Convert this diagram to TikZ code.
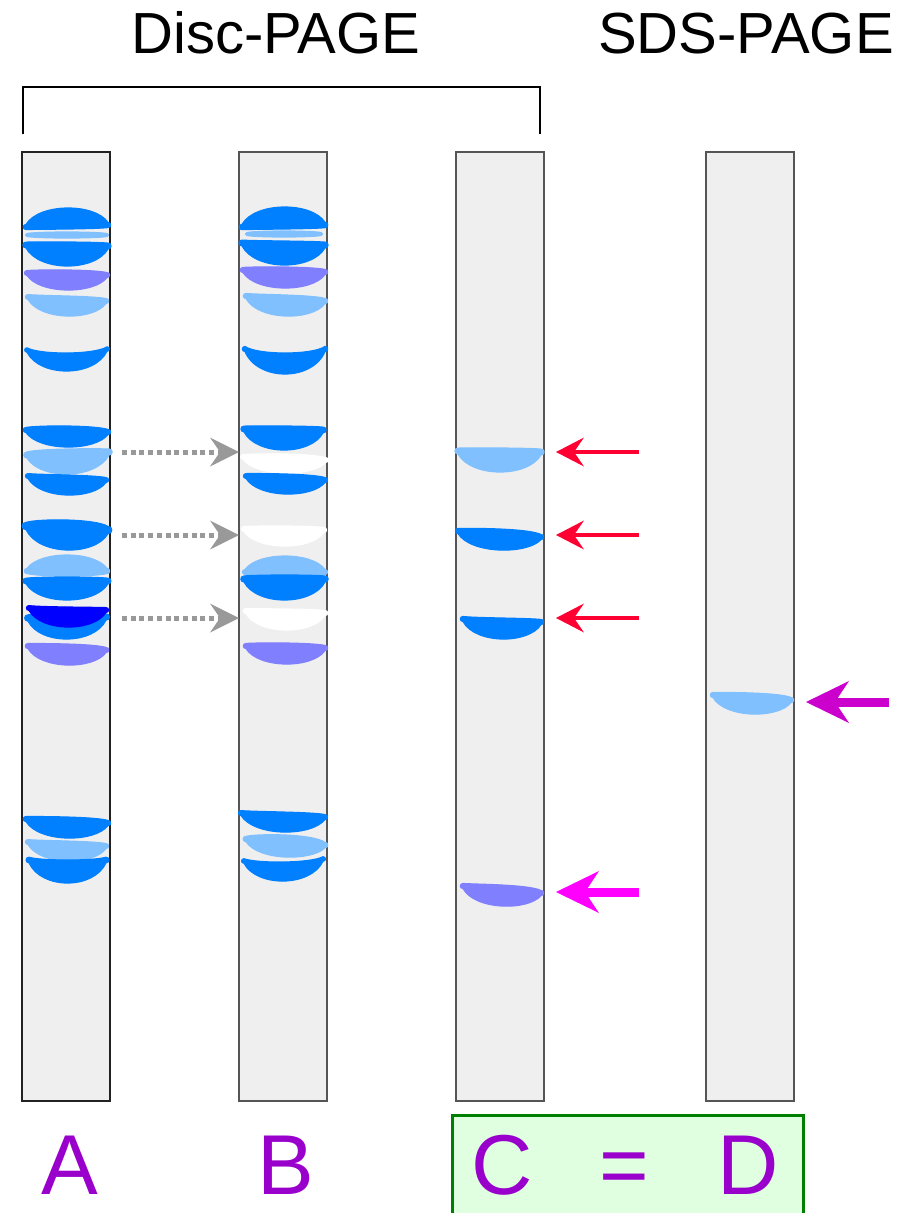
\documentclass[tikz,border=0pt]{standalone}
\usepackage{fontspec}
\setmainfont{Liberation Sans}
\usetikzlibrary{arrows.meta}

\definecolor{bandDark}{HTML}{0080FF}
\definecolor{bandLight}{HTML}{80C0FF}
\definecolor{bandViolet}{HTML}{8080FF}
\definecolor{bandDeep}{HTML}{0000FF}
\definecolor{laneFill}{HTML}{EFEFEF}
\definecolor{laneEdge}{HTML}{555555}
\definecolor{laneEdgeA}{HTML}{222222}
\definecolor{lblPurple}{HTML}{9900CC}
\definecolor{boxFill}{HTML}{E0FFE0}
\definecolor{boxEdge}{HTML}{008000}
\definecolor{arrRed}{HTML}{FF0033}
\definecolor{arrMag}{HTML}{FF00FF}
\definecolor{arrViolet}{HTML}{CC00CC}
\definecolor{arrGray}{HTML}{999999}

% A stained band: colour, left x, left y, right x, right y, top y, bottom y.
% Both ends are closed by a small outward bulge so the band stays blunt.
\newcommand{\gelband}[7]{%
  \pgfmathsetmacro{\gbW}{#4-#2}%
  \pgfmathsetmacro{\gbE}{max(1.5,0.12*(#7-#6))}%
  \pgfmathsetmacro{\gbK}{1.4*\gbE}%
  \pgfmathsetmacro{\gbT}{(#6-0.125*(#3+#5-2*\gbE))/0.75}%
  \pgfmathsetmacro{\gbB}{(#7-0.125*(#3+#5+2*\gbE))/0.75}%
  \filldraw[#1, line width=1.2pt, line join=round]
    (#2,{#3-\gbE}) .. controls ({#2+0.16*\gbW},\gbT) and ({#4-0.16*\gbW},\gbT) .. (#4,{#5-\gbE})
    .. controls ({#4+\gbK},{#5-\gbE}) and ({#4+\gbK},{#5+\gbE}) .. (#4,{#5+\gbE})
    .. controls ({#4-0.16*\gbW},\gbB) and ({#2+0.16*\gbW},\gbB) .. (#2,{#3+\gbE})
    .. controls ({#2-\gbK},{#3+\gbE}) and ({#2-\gbK},{#3-\gbE}) .. cycle;}

\tikzset{
  lane/.style={draw=laneEdge, fill=laneFill, line width=1.2pt, minimum width=88pt,
    minimum height=949pt, inner sep=0pt},
  titletext/.style={font=\fontsize{58}{62}\selectfont, inner sep=0pt, anchor=base},
  lanelabel/.style={font=\fontsize{85}{90}\selectfont, text=lblPurple, inner sep=0pt, anchor=base},
  transfer/.style={draw=arrGray, line width=5pt, dash pattern=on 5pt off 3.7pt,
    -{Stealth[length=29pt,width=29pt,inset=10pt,line width=0pt]}},
  redmark/.style={draw=arrRed, line width=4.5pt,
    -{Stealth[length=28pt,width=29pt,inset=10pt,line width=0pt]}},
  bigmark/.style={line width=9pt,
    -{Stealth[length=43pt,width=42pt,inset=14pt,line width=0pt]}},
}

\begin{document}
\begin{tikzpicture}[x=1pt,y=-1pt]
\useasboundingbox (0,0) rectangle (911,1213);

% headings and bracket over the two native gels
\node[titletext] (disc) at (276,53) {Disc-PAGE};
\node[titletext] (sds) at (746,53) {SDS-PAGE};
\coordinate (brL) at (23,134);
\coordinate (brR) at (540,134);
\draw[line width=2pt] (brL) -- (23,87) -- (540,87) -- (brR);

% gel lanes
\node[lane, draw=laneEdgeA] (laneA) at (66,626.5) {};
\node[lane] (laneB) at (283,626.5) {};
\node[lane] (laneC) at (500,626.5) {};
\node[lane] (laneD) at (750,626.5) {};

% lane A
\gelband{bandDark}{26}{227}{108}{225}{208}{229}
\gelband{bandLight}{27}{235}{107}{235}{232}{238}
\gelband{bandDark}{26}{245}{108}{246}{242}{266}
\gelband{bandViolet}{27}{273}{107}{275}{270}{290}
\gelband{bandLight}{28}{297}{106}{301}{296}{316}
\gelband{bandDark}{27}{350}{107}{349}{353}{371}
\gelband{bandDark}{26}{430}{108}{432}{426}{447}
\gelband{bandLight}{27}{455}{109}{452}{449}{474}
\gelband{bandDark}{28}{476}{106}{480}{475}{495}
\gelband{bandDark}{26}{526}{108}{530}{520}{550}
\gelband{bandLight}{27}{571}{107}{571}{555}{576}
\gelband{bandDark}{26}{581}{108}{581}{577}{600}
\gelband{bandDark}{28}{618}{106}{617}{613}{639}
\gelband{bandDeep}{29}{608}{106}{610}{607}{627}
\gelband{bandViolet}{28}{646}{106}{650}{644}{665}
\gelband{bandDark}{26}{819}{108}{823}{817}{838}
\gelband{bandLight}{28}{842}{106}{846}{841}{861}
\gelband{bandDark}{29}{860}{106}{860}{860}{883}

% lane B
\gelband{bandDark}{242}{227}{325}{225}{207}{229}
\gelband{bandLight}{247}{234}{321}{234}{231}{237}
\gelband{bandDark}{242}{243}{325}{245}{241}{265}
\gelband{bandViolet}{243}{270}{325}{272}{267}{288}
\gelband{bandLight}{246}{296}{325}{301}{295}{316}
\gelband{bandDark}{245}{349}{325}{349}{353}{374}
\gelband{bandDark}{244}{429}{323}{430}{426}{450}
\gelband{white}{243}{457}{326}{460}{454}{473}
\gelband{bandDark}{246}{476}{325}{480}{474}{494}
\gelband{white}{244}{529}{324}{530}{526}{546}
\gelband{bandLight}{245}{572}{325}{572}{556}{576}
\gelband{bandDark}{244}{579}{325}{579}{575}{600}
\gelband{white}{246}{611}{325}{613}{609}{630}
\gelband{bandViolet}{246}{646}{325}{648}{643}{664}
\gelband{bandDark}{241}{813}{325}{817}{812}{832}
\gelband{bandLight}{246}{839}{325}{845}{835}{857}
\gelband{bandDark}{244}{861}{323}{859}{862}{881}

% lane C
\gelband{bandLight}{458}{451}{541}{452}{448}{472}
\gelband{bandDark}{458}{531}{541}{537}{529}{550}
\gelband{bandDark}{463}{619}{541}{622}{618}{639}
\gelband{bandViolet}{463}{886}{541}{893}{885}{906}

% lane D
\gelband{bandLight}{713}{695}{791}{700}{693}{714}

% bands cut out of lane A and missing from lane B
\foreach \yy [count=\k] in {452,535,618} {
  \coordinate (cutA\k) at (122,\yy);
  \coordinate (cutB\k) at (239,\yy);
  \draw[transfer] (cutA\k) -- (cutB\k);
}

% the three cut-out bands rerun in lane C
\foreach \yy [count=\k] in {452,535,618} {
  \coordinate (tailC\k) at (639,\yy);
  \coordinate (tipC\k) at (556,\yy);
  \draw[redmark] (tailC\k) -- (tipC\k);
}
\coordinate (tailC4) at (639,892);
\coordinate (tipC4) at (556,892);
\draw[bigmark, draw=arrMag] (tailC4) -- (tipC4);

\coordinate (tailD) at (889,702);
\coordinate (tipD) at (806,702);
\draw[bigmark, draw=arrViolet] (tailD) -- (tipD);

% lane letters
\fill[boxFill] (452,1115) rectangle (803,1214);
\draw[boxEdge, line width=3pt] (452,1214) -- (452,1115) -- (803,1115) -- (803,1214);
\node[lanelabel] (lblA) at (70,1194) {A};
\node[lanelabel] (lblB) at (286,1194) {B};
\node[lanelabel] (lblC) at (502,1194) {C};
\node[lanelabel] (lblEq) at (624,1194) {=};
\node[lanelabel] (lblD) at (748,1194) {D};
\end{tikzpicture}
\end{document}
